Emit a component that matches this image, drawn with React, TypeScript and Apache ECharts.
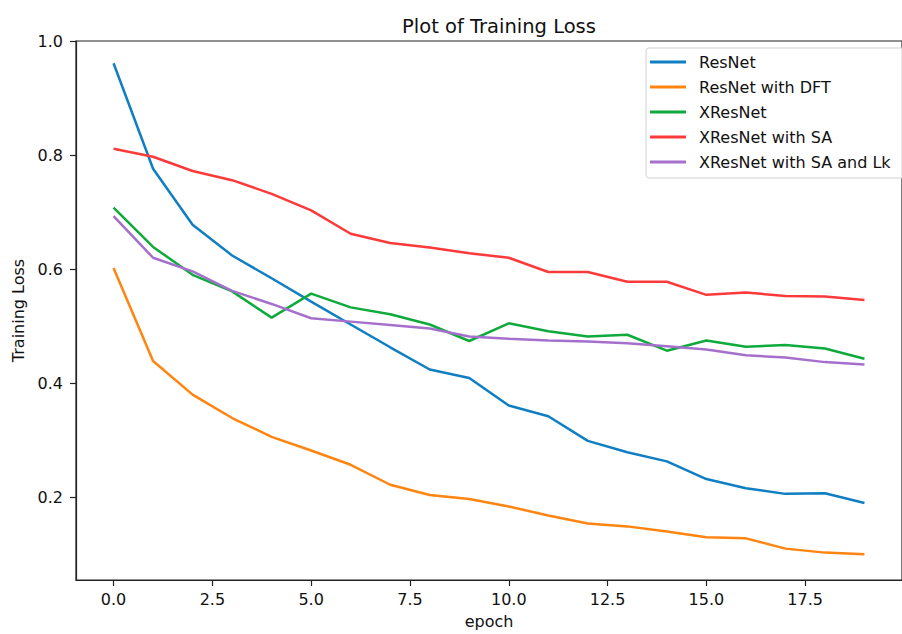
import React, { useEffect, useRef } from "react";
import * as echarts from "echarts";

const epochs = [0, 1, 2, 3, 4, 5, 6, 7, 8, 9, 10, 11, 12, 13, 14, 15, 16, 17, 18, 19];
const resnet = [0.961, 0.776, 0.678, 0.624, 0.584, 0.543, 0.503, 0.463, 0.424, 0.409, 0.361, 0.342, 0.299, 0.279, 0.263, 0.232, 0.216, 0.206, 0.207, 0.19];
const resnetDft = [0.602, 0.439, 0.38, 0.339, 0.306, 0.282, 0.257, 0.222, 0.204, 0.197, 0.184, 0.168, 0.154, 0.149, 0.14, 0.13, 0.128, 0.11, 0.103, 0.1];
const xresnet = [0.708, 0.639, 0.59, 0.561, 0.515, 0.557, 0.533, 0.521, 0.503, 0.474, 0.505, 0.491, 0.482, 0.485, 0.457, 0.475, 0.464, 0.467, 0.461, 0.443];
const xresnetSa = [0.811, 0.797, 0.772, 0.756, 0.732, 0.703, 0.662, 0.646, 0.638, 0.628, 0.62, 0.595, 0.595, 0.578, 0.578, 0.555, 0.559, 0.553, 0.552, 0.546];
const xresnetSaLk = [0.693, 0.62, 0.596, 0.562, 0.539, 0.514, 0.508, 0.502, 0.496, 0.482, 0.478, 0.475, 0.473, 0.47, 0.465, 0.459, 0.449, 0.445, 0.437, 0.433];

const seriesNames = ["ResNet", "ResNet with DFT", "XResNet", "XResNet with SA", "XResNet with SA and Lk"];
const seriesColors = ["#0f7ec2", "#ff8410", "#0faa3c", "#fc3a3a", "#a570cc"];
const xTicks = [0, 2.5, 5, 7.5, 10, 12.5, 15, 17.5];
const yTicks = [0.2, 0.4, 0.6, 0.8, 1.0];

const FONT = "DejaVu Sans";

export default function App() {
  const ref = useRef<HTMLDivElement>(null);
  useEffect(() => {
    document.body.style.margin = "0";
    if (!ref.current) return;
    const chart = echarts.init(ref.current, null, { renderer: "svg" });
    const allData = [resnet, resnetDft, xresnet, xresnetSa, xresnetSaLk];
    const series = allData.map((vals, i) => ({
      name: seriesNames[i],
      type: "line",
      data: epochs.map((e, j) => [e, vals[j]]),
      showSymbol: false,
      symbol: "none",
      lineStyle: { width: 2.5, color: seriesColors[i] },
      itemStyle: { color: seriesColors[i] },
    }));
    chart.setOption({
      animation: false,
      backgroundColor: "#ffffff",
      textStyle: { fontFamily: FONT },
      title: {
        text: "Plot of Training Loss",
        left: 494,
        top: 11,
        textAlign: "center",
        textStyle: { fontFamily: FONT, fontSize: 19.5, fontWeight: "normal", color: "#111" },
      },
      legend: {
        orient: "vertical",
        left: 646,
        top: 48,
        width: 256,
        padding: [6, 30, 8, 4],
        itemWidth: 36,
        itemHeight: 3,
        itemGap: 9,
        icon: "rect",
        borderColor: "#d0d0d0",
        borderWidth: 1,
        borderRadius: 3,
        backgroundColor: "rgba(255,255,255,0.85)",
        data: seriesNames,
        textStyle: { fontFamily: FONT, fontSize: 16, color: "#111", padding: [0, 0, 0, 8] },
      },
      grid: {
        left: 76,
        top: 41,
        right: -11,
        bottom: 50,
        show: true,
        borderColor: "#222",
        borderWidth: 1.2,
        backgroundColor: "transparent",
      },
      xAxis: {
        type: "value",
        min: -0.95,
        max: 19.95,
        name: "epoch",
        nameLocation: "middle",
        nameGap: 33,
        nameTextStyle: { fontFamily: FONT, fontSize: 16, color: "#111" },
        axisLine: { show: true, onZero: false, lineStyle: { color: "#222", width: 1.2 } },
        axisTick: { show: true, inside: false, length: 6, customValues: xTicks, lineStyle: { color: "#222", width: 1.2 } },
        axisLabel: {
          customValues: xTicks,
          margin: 11,
          fontFamily: FONT,
          fontSize: 16,
          color: "#111",
          formatter: (v: number) => v.toFixed(1),
        },
        splitLine: { show: false },
      },
      yAxis: {
        type: "value",
        min: 0.055,
        max: 1.0,
        name: "Training Loss",
        nameLocation: "middle",
        nameGap: 50,
        nameTextStyle: { fontFamily: FONT, fontSize: 16, color: "#111" },
        axisLine: { show: true, onZero: false, lineStyle: { color: "#222", width: 1.2 } },
        axisTick: { show: true, inside: false, length: 6, customValues: yTicks, lineStyle: { color: "#222", width: 1.2 } },
        axisLabel: {
          customValues: yTicks,
          margin: 13,
          fontFamily: FONT,
          fontSize: 16,
          color: "#111",
          formatter: (v: number) => v.toFixed(1),
        },
        splitLine: { show: false },
      },
      series,
    });
    return () => chart.dispose();
  }, []);
  return <div ref={ref} style={{ width: 902, height: 634 }} />;
}
